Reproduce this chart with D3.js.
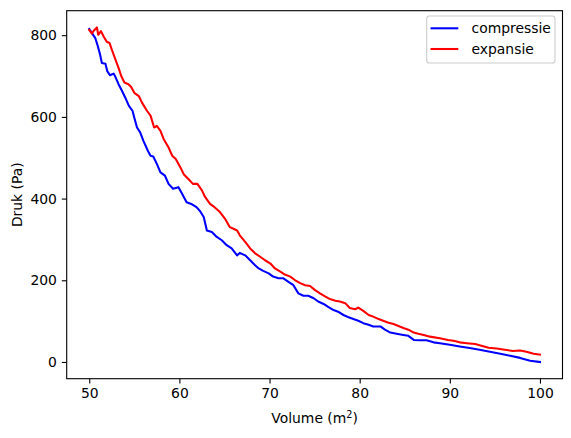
<!DOCTYPE html>
<html>
<head>
<meta charset="utf-8">
<script src="https://cdn.jsdelivr.net/npm/d3@7"></script>
<style>
  body { margin: 0; background: #fff; }
  svg { display: block; font-family: "DejaVu Sans", sans-serif; }
</style>
</head>
<body>
<script>
// values
const volume_compressie = [50.0, 50.3, 50.67, 50.9, 51.2, 51.4, 51.8, 52.0, 52.3, 52.7, 52.9, 53.25, 53.6, 54.0, 54.4, 54.8, 55.0, 55.3, 55.65, 56.0, 56.5, 56.8, 57.1, 57.5, 57.9, 58.4, 58.8, 59.3, 59.9, 60.3, 60.8, 61.4, 61.9, 62.3, 62.7, 63.05, 63.6, 64.15, 64.7, 65.25, 65.8, 66.4, 66.7, 67.3, 67.85, 68.4, 68.8, 69.3, 69.9, 70.4, 71.0, 71.5, 72.1, 72.65, 73.2, 73.76, 74.3, 74.9, 75.4, 76.0, 76.5, 77.1, 77.6, 78.2, 78.7, 79.3, 79.85, 80.4, 81.0, 81.5, 82.3, 82.8, 83.4, 84.1, 84.85, 85.4, 86.0, 86.7, 87.4, 88.2, 88.9, 90.0, 91.1, 92.2, 93.3, 94.45, 95.6, 96.7, 97.8, 98.9, 100.0];
const druk_compressie = [815, 805, 793, 777, 753, 732, 730, 712, 702, 706, 698, 680, 665, 647, 627, 615, 598, 574, 562, 542, 517, 505, 503, 485, 464, 456, 436, 424, 428, 412, 391, 386, 379, 369, 355, 322, 318, 306, 298, 286, 278, 261, 267, 261, 249, 237, 229, 223, 217, 209, 205, 205, 196, 188, 168, 162, 162, 156, 148, 142, 135, 127, 123, 115, 110, 105, 101, 95, 91, 87, 87, 79, 72, 69, 66, 64, 54, 53, 53, 48, 46, 42, 38, 34, 30, 25, 20, 15, 10, 3, 0];

const volume_expansie = [50.0, 50.3, 50.5, 50.85, 51.0, 51.3, 51.6, 51.95, 52.25, 52.5, 52.9, 53.25, 53.55, 53.9, 54.35, 54.65, 55.0, 55.5, 55.85, 56.4, 56.8, 57.2, 57.5, 57.9, 58.25, 58.8, 59.2, 59.6, 60.1, 60.5, 61.0, 61.5, 62.0, 62.5, 62.85, 63.4, 63.9, 64.5, 65.05, 65.6, 66.0, 66.4, 66.7, 67.3, 67.85, 68.4, 69.0, 69.5, 70.1, 70.6, 71.2, 71.7, 72.3, 72.85, 73.4, 73.95, 74.5, 75.05, 75.6, 76.2, 76.7, 77.3, 77.8, 78.4, 78.9, 79.5, 79.85, 80.4, 81.0, 81.5, 82.1, 82.6, 83.2, 83.75, 84.3, 84.85, 85.4, 86.0, 86.5, 87.1, 87.8, 88.9, 89.8, 90.4, 91.1, 91.9, 92.8, 93.5, 94.3, 95.2, 96.1, 97.0, 97.8, 98.5, 99.3, 100.0];
const druk_expansie = [813, 804, 811, 819, 801, 810, 797, 784, 781, 765, 741, 720, 700, 684, 680, 673, 659, 651, 635, 615, 603, 574, 578, 566, 546, 525, 505, 497, 477, 459, 448, 436, 436, 420, 404, 387, 379, 367, 351, 330, 326, 322, 310, 294, 278, 266, 257, 249, 241, 229, 221, 214, 209, 200, 193, 188, 186, 176, 168, 160, 154, 150, 148, 144, 132, 129, 133, 125, 115, 111, 105, 101, 96, 93, 88, 83, 79, 72, 69, 66, 62, 58, 54, 52, 48, 46, 44, 40, 35, 33, 30, 27, 28, 25, 20, 18];

const x_ticks = [50, 60, 70, 80, 90, 100];
const y_ticks = [0, 200, 400, 600, 800];
const series_names = ['compressie', 'expansie'];
const series_colors = ['#0000ff', '#ff0000'];

const _svg_width = 571;
const _svg_height = 438;
const _left = 66.7;
const _right = 562.5;
const _top = 10.7;
const _bottom = 378.7;
const font_px = 13.9;
const tick_len = 4.9;

// matplotlib-like 5% margins
const pad = (ext) => { const d = (ext[1] - ext[0]) * 0.05; return [ext[0] - d, ext[1] + d]; };
const all_v = volume_compressie.concat(volume_expansie);
const all_p = druk_compressie.concat(druk_expansie);

const x = d3.scaleLinear().domain(pad(d3.extent(all_v))).range([_left, _right]);
const y = d3.scaleLinear().domain(pad(d3.extent(all_p))).range([_bottom, _top]);

const svg = d3.select('body')
    .append('svg')
    .attr('width', _svg_width)
    .attr('height', _svg_height);

const series = [
    d3.zip(volume_compressie, druk_compressie),
    d3.zip(volume_expansie, druk_expansie)
];

const line = d3.line().x(d => x(d[0])).y(d => y(d[1]));

svg.append('g')
    .selectAll('path')
    .data(series)
    .join('path')
    .attr('d', line)
    .attr('fill', 'none')
    .attr('stroke', (d, i) => series_colors[i])
    .attr('stroke-width', 2.08)
    .attr('stroke-linejoin', 'round')
    .attr('stroke-linecap', 'square');

// axes
const x_axis = svg.append('g')
    .attr('transform', `translate(0,${_bottom})`)
    .call(d3.axisBottom(x).tickValues(x_ticks).tickSize(tick_len).tickPadding(4.9));
const y_axis = svg.append('g')
    .attr('transform', `translate(${_left},0)`)
    .call(d3.axisLeft(y).tickValues(y_ticks).tickSize(tick_len).tickPadding(4.9));

[x_axis, y_axis].forEach(a => {
    a.select('.domain').remove();
    a.selectAll('line').attr('stroke', '#000').attr('stroke-width', 1.1);
    a.selectAll('text')
        .attr('fill', '#000')
        .style('font-family', '"DejaVu Sans", sans-serif')
        .style('font-size', font_px + 'px');
});

svg.append('rect')
    .attr('x', _left)
    .attr('y', _top)
    .attr('width', _right - _left)
    .attr('height', _bottom - _top)
    .attr('fill', 'none')
    .attr('stroke', '#000')
    .attr('stroke-width', 1.1);

// axis labels
const xl = svg.append('text')
    .attr('x', (_left + _right) / 2)
    .attr('y', 423)
    .attr('text-anchor', 'middle')
    .style('font-size', font_px + 'px');
xl.append('tspan').text('Volume (m');
xl.append('tspan').attr('dy', -5).style('font-size', '9.7px').text('2');
xl.append('tspan').attr('dy', 5).text(')');

svg.append('text')
    .attr('transform', `translate(22,${(_top + _bottom) / 2}) rotate(-90)`)
    .attr('text-anchor', 'middle')
    .style('font-size', font_px + 'px')
    .text('Druk (Pa)');

// legend
const legend = svg.append('g');
legend.append('rect')
    .attr('x', 426.7)
    .attr('y', 16)
    .attr('width', 128.3)
    .attr('height', 47)
    .attr('rx', 2.8)
    .attr('fill', '#fff')
    .attr('fill-opacity', 0.8)
    .attr('stroke', '#cccccc')
    .attr('stroke-width', 1.1);

const items = legend.selectAll('g.item')
    .data(series_names)
    .join('g')
    .attr('class', 'item')
    .attr('transform', (d, i) => `translate(0,${28.3 + i * 20.7})`);
items.append('line')
    .attr('x1', 430.5).attr('x2', 458.3)
    .attr('stroke', (d, i) => series_colors[i])
    .attr('stroke-width', 2.08);
items.append('text')
    .attr('x', 471.5)
    .attr('dy', '0.35em')
    .style('font-size', font_px + 'px')
    .text(d => d);
</script>
</body>
</html>
